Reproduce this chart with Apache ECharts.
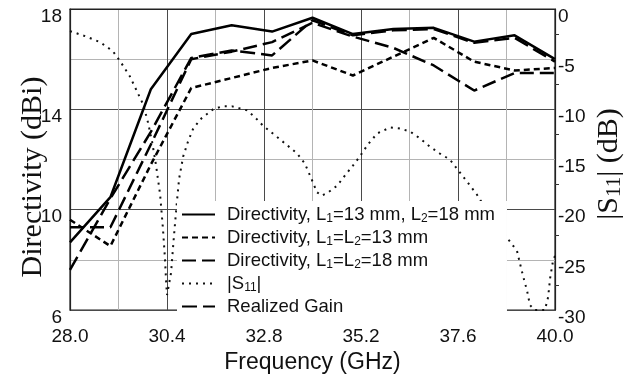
<!DOCTYPE html>
<html>
<head>
<meta charset="utf-8">
<script src="https://cdn.jsdelivr.net/npm/echarts@6/dist/echarts.min.js"></script>
<style>
  html, body { margin: 0; padding: 0; background: #fff; }
  #chart { width: 626px; height: 379px; }
</style>
</head>
<body>
<div id="chart"></div>
<script>
// Frequency samples (GHz) for the directivity / gain curves
const freq = [28, 29, 30, 31, 32, 33, 34, 35, 36, 37, 38, 39, 40];

// Directivity (dBi)
const dirL13L18 = [8.7, 10.5, 14.8, 17.0, 17.35, 17.1, 17.65, 17.0, 17.2, 17.25, 16.7, 16.95, 16.0];
const dirL13L13 = [9.6, 8.55, 11.8, 14.85, 15.25, 15.65, 15.95, 15.35, 16.1, 16.85, 15.9, 15.55, 15.65];
const dirL18L18 = [9.3, 9.3, 12.6, 16.0, 16.3, 16.68, 17.45, 16.9, 16.45, 15.75, 14.75, 15.45, 15.45];
// Realized gain (dBi)
const realizedGain = [7.6, 10.45, 13.1, 16.05, 16.35, 16.15, 17.55, 16.95, 17.15, 17.2, 16.65, 16.85, 15.9];

// Reflection coefficient |S11| (dB)
const s11Freq = [28.0, 28.37, 28.74, 29.06, 29.24, 29.48, 29.81, 29.93, 30.03, 30.13, 30.23, 30.30, 30.35, 30.38, 30.40,
  30.50, 30.57, 30.65, 30.70, 30.80, 30.92, 31.04, 31.22, 31.54, 31.76, 32.01, 32.20, 32.38, 32.58, 32.77,
  33.20, 33.62, 33.81, 33.94, 34.11, 34.23, 34.38, 34.61, 34.80, 35.00, 35.17, 35.37, 35.60, 35.92, 36.16,
  36.41, 36.66, 36.90, 37.15, 37.40, 37.65, 37.90, 38.07, 38.27, 38.47, 38.69, 38.89, 39.06, 39.13, 39.21,
  39.31, 39.38, 39.50, 39.63, 39.75, 39.83, 39.88, 39.95, 40.0];
const s11Db = [-2.2, -2.7, -3.3, -4.2, -5.2, -6.7, -9.5, -11.3, -13.2, -15.6, -18.5, -21.9, -24.9, -27.3, -28.5,
  -26.3, -22.7, -19.0, -16.9, -14.7, -13.2, -12.0, -11.0, -10.0, -9.7, -9.7, -9.9, -10.1, -10.8, -11.6,
  -13.0, -14.4, -15.4, -16.6, -18.25, -18.6, -18.3, -17.6, -16.6, -15.6, -14.7, -13.5, -12.4, -11.8, -11.9,
  -12.2, -12.9, -13.7, -14.4, -15.0, -16.3, -17.6, -18.5, -19.8, -21.0, -22.1, -23.2, -24.1, -25.3, -26.6,
  -28.1, -29.5, -30, -30, -30, -28.7, -26.8, -25.1, -24.6];

// Axis ranges and tick labels
const xTickLabels = ['28.0', '30.4', '32.8', '35.2', '37.6', '40.0'];
const leftTicks = [6, 10, 14, 18];
const rightTicks = [-30, -25, -20, -15, -10, -5, 0];

const SANS = '"Liberation Sans", Arial, sans-serif';
const SERIF = '"Liberation Serif", "Times New Roman", serif';

const legendText = {
  d1: '{t|Directivity, L}{s|1}{t|=13 mm, L}{s|2}{t|=18 mm}',
  d2: '{t|Directivity, L}{s|1}{t|=L}{s|2}{t|=13 mm}',
  d3: '{t|Directivity, L}{s|1}{t|=L}{s|2}{t|=18 mm}',
  s11: '{t||S}{s|11}{t||}',
  g: '{t|Realized Gain}'
};

const pairs = (xs, ys) => xs.map((x, i) => [x, ys[i]]);

const chart = echarts.init(document.getElementById('chart'), null, { renderer: 'canvas' });

const gridMajor = { color: '#4a4a4a', width: 1 };
const gridMinor = { color: '#b4b4b4', width: 1 };
const hidden = { color: 'rgba(0,0,0,0)', opacity: 0 };

chart.setOption({
  animation: false,
  backgroundColor: '#fff',
  grid: {
    left: 70, right: 71, top: 9, bottom: 61,
    show: true, borderColor: '#222', borderWidth: 1.2, backgroundColor: 'transparent'
  },
  graphic: [
    {
      type: 'text', x: 33, y: 177, rotation: Math.PI / 2,
      style: {
        text: 'Directivity (dBi)', fontFamily: SERIF, fontSize: 30, fill: '#111',
        align: 'center', verticalAlign: 'middle'
      }
    },
    {
      type: 'text', x: 609, y: 164, rotation: Math.PI / 2,
      style: {
        text: '{t||S}{s|11}{t|| (dB)}',
        align: 'center', verticalAlign: 'middle',
        rich: {
          t: { fontFamily: SERIF, fontSize: 30, fill: '#111' },
          s: { fontFamily: SERIF, fontSize: 21, fill: '#111', padding: [10, 0, 0, 0] }
        }
      }
    }
  ],
  legend: {
    orient: 'vertical',
    left: 177, top: 201,
    backgroundColor: '#fff',
    padding: [4, 12, 6, 4],
    itemWidth: 33, itemHeight: 14,
    itemGap: 3,
    selectedMode: false,
    itemStyle: { opacity: 0 },
    data: ['d1', 'd2', 'd3', 's11', 'g'],
    formatter: name => legendText[name],
    textStyle: {
      padding: [0, 0, 0, 7],
      rich: {
        t: { fontFamily: SANS, fontSize: 18.5, color: '#111', lineHeight: 21 },
        s: { fontFamily: SANS, fontSize: 12, color: '#111', padding: [9, 0, 0, 0] }
      }
    }
  },
  xAxis: {
    type: 'value', min: 28, max: 40, interval: 2.4,
    name: 'Frequency (GHz)', nameLocation: 'middle', nameGap: 35,
    nameTextStyle: { fontFamily: SANS, fontSize: 23, color: '#111' },
    axisLine: { show: true, lineStyle: { color: '#222', width: 1.2 } },
    axisTick: { show: false },
    minorTick: { show: true, splitNumber: 2, length: 0 },
    splitLine: { show: true, lineStyle: gridMajor },
    minorSplitLine: { show: true, lineStyle: gridMinor },
    axisLabel: {
      fontFamily: SANS, fontSize: 19, color: '#111', margin: 17,
      formatter: v => xTickLabels[Math.round((v - 28) / 2.4)]
    }
  },
  yAxis: [
    {
      type: 'value', min: 6, max: 18, interval: 4, position: 'left',
      axisLine: { show: true, lineStyle: { color: '#222', width: 1.2 } },
      axisTick: { show: false },
      minorTick: { show: true, splitNumber: 2, length: 0 },
      splitLine: { show: true, lineStyle: gridMajor },
      minorSplitLine: { show: true, lineStyle: gridMinor },
      axisLabel: {
        fontFamily: SANS, fontSize: 19, color: '#111', margin: 8,
        verticalAlign: 'top', lineHeight: 15,
        formatter: v => String(leftTicks[leftTicks.indexOf(v)])
      }
    },
    {
      type: 'value', min: -30, max: 0, interval: 5, position: 'right',
      axisLine: { show: true, lineStyle: { color: '#222', width: 1.2 } },
      axisTick: { show: false },
      minorTick: { show: true, splitNumber: 2, length: 4, lineStyle: { color: '#333' } },
      splitLine: { show: false },
      axisLabel: {
        fontFamily: SANS, fontSize: 19, color: '#111', margin: 3,
        verticalAlign: 'top', lineHeight: 15,
        formatter: v => String(rightTicks[rightTicks.indexOf(v)])
      }
    }
  ],
  series: [
    {
      name: 'd1', type: 'line', yAxisIndex: 0, symbol: 'none', z: 5,
      data: pairs(freq, dirL13L18), itemStyle: hidden,
      lineStyle: { color: '#000', width: 2.5, type: 'solid' }
    },
    {
      name: 'd2', type: 'line', yAxisIndex: 0, symbol: 'none', z: 4,
      data: pairs(freq, dirL13L13), itemStyle: hidden,
      lineStyle: { color: '#000', width: 2.5, type: [6, 4] }
    },
    {
      name: 'd3', type: 'line', yAxisIndex: 0, symbol: 'none', z: 4,
      data: pairs(freq, dirL18L18), itemStyle: hidden,
      lineStyle: { color: '#000', width: 2.5, type: [14, 6] }
    },
    {
      name: 's11', type: 'line', yAxisIndex: 1, symbol: 'none', z: 3,
      data: pairs(s11Freq, s11Db), itemStyle: hidden,
      lineStyle: { color: '#111', width: 2, type: [2, 5], cap: 'butt' }
    },
    {
      name: 'g', type: 'line', yAxisIndex: 0, symbol: 'none', z: 4,
      data: pairs(freq, realizedGain), itemStyle: hidden,
      lineStyle: { color: '#000', width: 2.5, type: [15, 6] }
    }
  ]
});
</script>
</body>
</html>
